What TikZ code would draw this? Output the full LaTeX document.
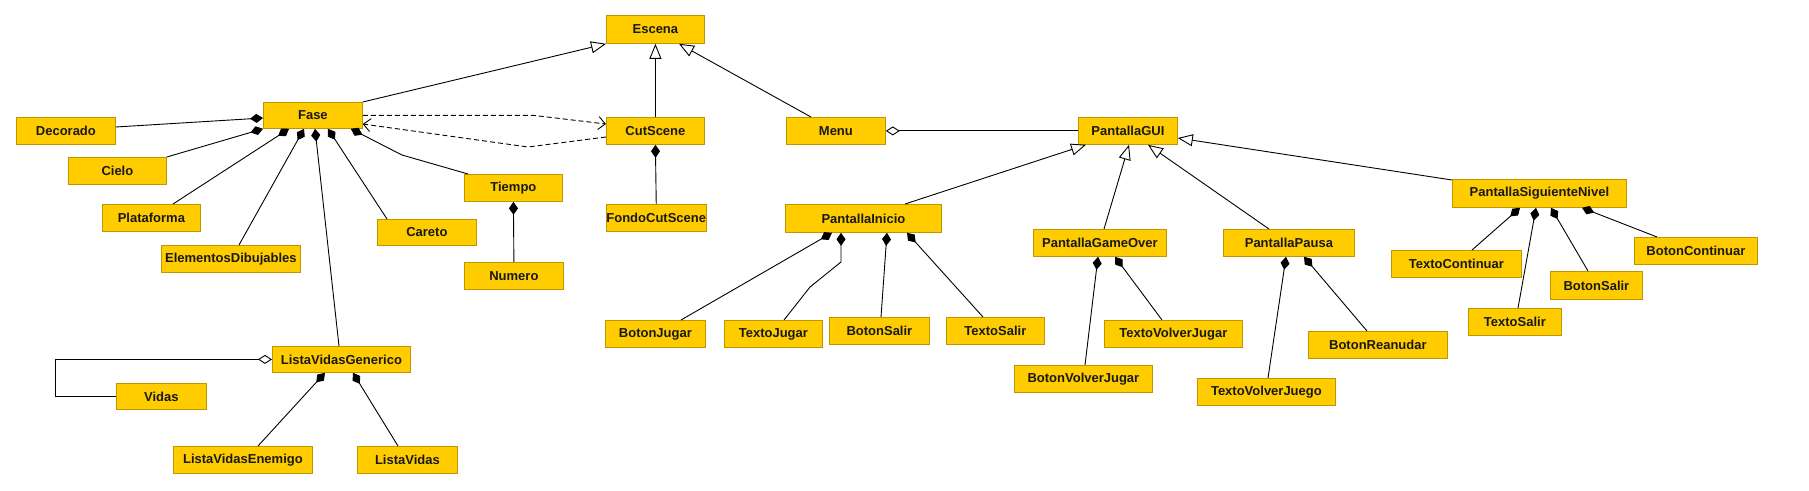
\documentclass[tikz,border=0pt]{standalone}
\usepackage{fontspec}
\setmainfont{Liberation Sans}
\usetikzlibrary{arrows.meta,calc}
\definecolor{boxfill}{RGB}{255,204,0}
\definecolor{boxline}{RGB}{190,150,0}
\newcommand\umlbox[6]{\node[cls,minimum width={(#4-#2)*1pt},minimum height={(#5-#3)*1pt}] (#1) at (#2,#3) {#6};}
\begin{document}
\begin{tikzpicture}[x=1pt,y=-1pt,
  cls/.style={draw=boxline,fill=boxfill,line width=0.8pt,anchor=north west,inner sep=0pt,
    font=\fontsize{13}{15}\selectfont\bfseries,text=black!90},
  link/.style={draw=black,line width=0.9pt},
  gen/.style={link,-{Triangle[length=15pt,width=12pt,fill=white]}},
  comp/.style={link,-{Diamond[length=13pt,width=9pt]}},
  agg/.style={link,-{Diamond[length=14pt,width=9pt,fill=white]}},
  dep/.style={link,dashed,dash pattern=on 5pt off 3pt,-{Straight Barb[length=7pt,width=13pt]}}]
\fill[white] (0,0) rectangle (1809,490);
\useasboundingbox (0,0) rectangle (1809,490);
% nodes
\umlbox{escena}{606}{15}{704}{43}{Escena}
\umlbox{fase}{263}{102}{362}{128}{Fase}
\umlbox{decorado}{16}{117}{115}{144}{Decorado}
\umlbox{cielo}{68}{157}{166}{184}{Cielo}
\umlbox{plataforma}{102}{204}{200}{231}{Plataforma}
\umlbox{elementos}{161}{245}{300}{272}{ElementosDibujables}
\umlbox{careto}{377}{219}{476}{245}{Careto}
\umlbox{tiempo}{464}{174}{562}{201}{Tiempo}
\umlbox{numero}{464}{262}{563}{289}{Numero}
\umlbox{cutscene}{606}{117}{704}{144}{CutScene}
\umlbox{fondo}{606}{204}{704}{231}{FondoCutScene}
\umlbox{menu}{786}{117}{885}{144}{Menu}
\umlbox{gui}{1078}{117}{1177}{144}{PantallaGUI}
\umlbox{inicio}{785}{204}{941}{232}{PantallaInicio}
\umlbox{gameover}{1033}{229}{1166}{256}{PantallaGameOver}
\umlbox{pausa}{1223}{229}{1354}{256}{PantallaPausa}
\umlbox{siguiente}{1452}{179}{1626}{207}{PantallaSiguienteNivel}
\umlbox{botonjugar}{605}{320}{705}{347}{BotonJugar}
\umlbox{textojugar}{724}{320}{822}{347}{TextoJugar}
\umlbox{botonsalir}{829}{317}{929}{344}{BotonSalir}
\umlbox{textosalir}{946}{317}{1044}{344}{TextoSalir}
\umlbox{botonvolver}{1014}{365}{1152}{392}{BotonVolverJugar}
\umlbox{textovolver}{1104}{320}{1242}{347}{TextoVolverJugar}
\umlbox{textojuego}{1197}{378}{1335}{405}{TextoVolverJuego}
\umlbox{reanudar}{1308}{331}{1447}{358}{BotonReanudar}
\umlbox{textocont}{1391}{250}{1521}{277}{TextoContinuar}
\umlbox{botoncont}{1634}{237}{1757}{264}{BotonContinuar}
\umlbox{botonsalirb}{1550}{271}{1642}{299}{BotonSalir}
\umlbox{textosalirb}{1468}{308}{1561}{335}{TextoSalir}
\umlbox{lvg}{272}{346}{410}{372}{ListaVidasGenerico}
\umlbox{vidas}{116}{383}{206}{409}{Vidas}
\umlbox{lve}{173}{446}{312}{473}{ListaVidasEnemigo}
\umlbox{lv}{357}{446}{457}{473}{ListaVidas}
% generalizations
\draw[gen] (fase.north east) -- (escena.south west);
\draw[gen] (cutscene.north) -- (escena.south);
\draw[gen] ([xshift=25pt]menu.north west) -- ([xshift=73pt]escena.south west);
\draw[gen] ([xshift=120pt]inicio.north west) -- ([xshift=8pt]gui.south west);
\draw[gen] ([xshift=71pt]gameover.north west) -- ([xshift=51pt]gui.south west);
\draw[gen] ([xshift=46pt]pausa.north west) -- ([xshift=70pt]gui.south west);
\draw[gen] ([yshift=-1pt]siguiente.north west) -- ([yshift=-21pt]gui.north east);
% dependencies
\draw[dep] (fase.east) -- ++(171,0) -- ([yshift=-7pt]cutscene.north west);
\draw[dep] ([yshift=-20pt]cutscene.north west) -- ++(-78,10) -- ([yshift=-22pt]fase.north east);
% compositions
\draw[comp] ([yshift=-10pt]decorado.north east) -- ([yshift=-16pt]fase.north west);
\draw[comp] (cielo.north east) -- (fase.south west);
\draw[comp] ([xshift=71pt]plataforma.north west) -- ([xshift=26pt]fase.south west);
\draw[comp] ([xshift=78pt]elementos.north west) -- ([xshift=41pt]fase.south west);
\draw[comp] ([xshift=67pt]lvg.north west) -- ([xshift=52pt]fase.south west);
\draw[comp] ([xshift=10pt]careto.north west) -- ([xshift=65pt]fase.south west);
\draw[comp] ([xshift=4pt]tiempo.north west) -- ++(-66,-19) -- ([xshift=-12pt]fase.south east);
\draw[comp] (numero.north) -- (tiempo.south);
\draw[comp] (fondo.north) -- (cutscene.south);
\draw[comp] ([xshift=85pt]lve.north west) -- ([xshift=53pt]lvg.south west);
\draw[comp] ([xshift=41pt]lv.north west) -- ([xshift=81pt]lvg.south west);
\draw[comp] ([xshift=76pt]botonjugar.north west) -- ([xshift=47pt]inicio.south west);
\draw[comp] ([xshift=60pt]textojugar.north west) -- ++(26,-33) -- ++(31,-25) -- ([xshift=56pt]inicio.south west);
\draw[comp] ([xshift=52pt]botonsalir.north west) -- ([xshift=102pt]inicio.south west);
\draw[comp] ([xshift=37pt]textosalir.north west) -- ([xshift=122pt]inicio.south west);
\draw[comp] ([xshift=71pt]botonvolver.north west) -- ([xshift=65pt]gameover.south west);
\draw[comp] ([xshift=58pt]textovolver.north west) -- ([xshift=82pt]gameover.south west);
\draw[comp] ([xshift=71pt]textojuego.north west) -- ([xshift=63pt]pausa.south west);
\draw[comp] ([xshift=59pt]reanudar.north west) -- ([xshift=81pt]pausa.south west);
\draw[comp] ([xshift=81pt]textocont.north west) -- ([xshift=68pt]siguiente.south west);
\draw[comp] ([xshift=50pt]textosalirb.north west) -- ([xshift=84pt]siguiente.south west);
\draw[comp] ([xshift=38pt]botonsalirb.north west) -- ([xshift=99pt]siguiente.south west);
\draw[comp] ([xshift=23pt]botoncont.north west) -- ([xshift=130pt]siguiente.south west);
% aggregations
\draw[agg] (vidas.west) -- ++(-61,0) |- (lvg.west);
\draw[agg] (gui.west) -- (menu.east);
\end{tikzpicture}
\end{document}
